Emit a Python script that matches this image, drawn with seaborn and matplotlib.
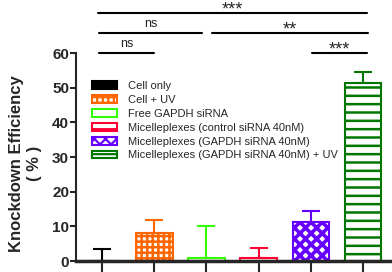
import numpy as np
import pandas as pd
import matplotlib
matplotlib.use("Agg")
import matplotlib.pyplot as plt
import seaborn as sns

# === Data ===
groups = [
    "Cell only",
    "Cell + UV",
    "Free GAPDH siRNA",
    "Micelleplexes (control siRNA 40nM)",
    "Micelleplexes (GAPDH siRNA 40nM)",
    "Micelleplexes (GAPDH siRNA 40nM) + UV",
]
means = [0.0, 8.0, 1.0, 0.8, 11.3, 51.5]
errs = [3.4, 4.0, 9.0, 3.1, 3.2, 3.0]
colors = ["#000000", "#FF6600", "#33FF00", "#FF0033", "#6600FF", "#007700"]
hatches = ["", "+++", "", "--", "xxx", "--"]
hatch_lw = [1.6, 1.8, 1.6, 1.6, 2.6, 1.8]

# significance brackets: (left, right, height, label)
sig_left = [-0.08, -0.06, 2.10, -0.06, 4.02]
sig_right = [5.08, 1.92, 5.10, 1.00, 5.08]
sig_y = [71.5, 65.8, 65.8, 60.0, 60.0]
sig_text = ["***", "ns", "**", "ns", "***"]

df = pd.DataFrame({"group": groups, "value": means})

sns.set_style("ticks")
plt.rcParams["font.family"] = ["Liberation Sans", "DejaVu Sans"]
plt.rcParams["hatch.linewidth"] = 1.6

fig = plt.figure(figsize=(3.92, 2.72), dpi=100)
ax = fig.add_axes([0.194, 0.040, 0.801, 0.96])

sns.barplot(data=df, x="group", y="value", hue="group", palette=colors,
            width=0.7, errorbar=None, legend=False, ax=ax)

for patch, col, h, hl in zip(ax.patches, colors, hatches, hatch_lw):
    if col == "#000000":
        patch.set_facecolor(col)
    else:
        patch.set_facecolor("white")
    patch.set_edgecolor(col)
    patch.set_hatch(h)
    patch.set_linewidth(1.5)
    if hasattr(patch, "set_hatch_linewidth"):
        patch.set_hatch_linewidth(hl)

x = np.arange(len(groups))
for xi, m, e, c in zip(x, means, errs, colors):
    ax.errorbar(xi, m, yerr=[[0], [e]], color=c, capsize=6.5, elinewidth=1.5,
                capthick=1.5, fmt="none", zorder=1)

# significance lines
for l, r, yy, t in zip(sig_left, sig_right, sig_y, sig_text):
    ax.plot([l, r], [yy, yy], color="black", lw=1.5, clip_on=False)
    if t == "ns":
        ax.text((l + r) / 2, yy + 0.8, t, ha="center", va="bottom", fontsize=9,
                clip_on=False)
    else:
        ax.text((l + r) / 2, yy - 1.6, t, ha="center", va="bottom", fontsize=13,
                clip_on=False)

ax.set_xlim(-0.5, 5.52)
ax.set_ylim(0, 75.3)
ax.set_yticks([0, 10, 20, 30, 40, 50, 60])
ax.spines["left"].set_bounds(0, 60)
ax.spines["right"].set_visible(False)
ax.spines["top"].set_visible(False)
ax.spines["left"].set_linewidth(1.5)
ax.spines["bottom"].set_linewidth(2.5)
ax.set_xticks(x)
ax.set_xticklabels([])
ax.tick_params(axis="x", length=8, width=1.5)
ax.tick_params(axis="y", length=4, width=1.5, labelsize=11, pad=1)
for lab in ax.get_yticklabels():
    lab.set_fontweight("bold")
ax.set_xlabel("")
ax.set_ylabel("Knockdown Efficiency\n( % )", fontsize=12, fontweight="bold")
ax.yaxis.set_label_coords(-0.11, 0.375)

ax.legend(handles=ax.patches[:6], labels=groups, loc="upper left",
          bbox_to_anchor=(0.05, 0.69), frameon=False, fontsize=8,
          handlelength=2.3, handleheight=0.7, labelspacing=0.35,
          handletextpad=1.0, borderaxespad=0, borderpad=0)

plt.savefig("out.png", dpi=100)
